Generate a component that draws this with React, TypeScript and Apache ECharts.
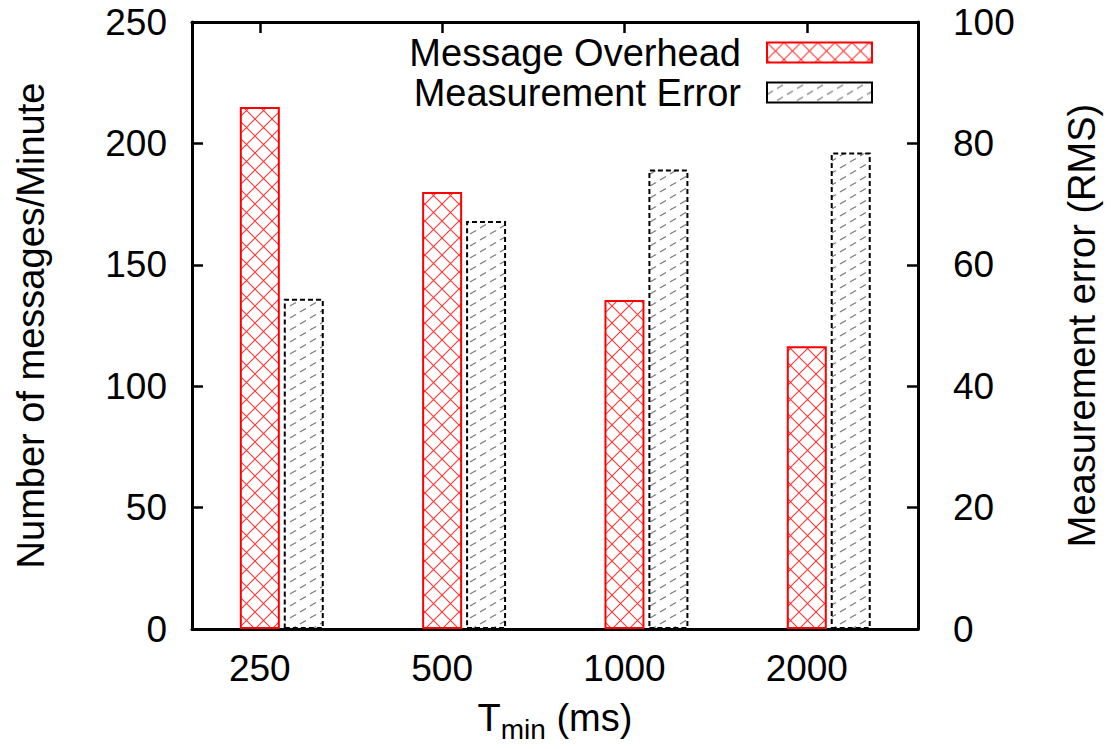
import React, { useEffect, useRef } from 'react';
import * as echarts from 'echarts';

// ---- data ----
const categories = ['250', '500', '1000', '2000'];
const messageOverhead = [215, 180, 135.5, 116.5];
const measurementError = [54.4, 67.2, 75.7, 78.5];
const seriesNames = ['Message Overhead', 'Measurement Error'];
const xTickPositions = [0, 1, 2, 3];
const errorOffset = 0.241;

const FONT = '"Liberation Sans", Arial, Helvetica, sans-serif';

function svgUrl(s: string) {
  return 'data:image/svg+xml;charset=utf-8,' + encodeURIComponent(s);
}

// red crosshatch tile
const C = 17;
const crossLines: string[] = [];
for (let k = -1; k <= 1; k++) {
  crossLines.push(`M${-C} ${-C + k * C}L${2 * C} ${2 * C + k * C}`);
}
for (let k = 0; k <= 2; k++) {
  crossLines.push(`M${-C} ${C + k * C}L${2 * C} ${-2 * C + k * C}`);
}
const crossSvg = `<svg xmlns="http://www.w3.org/2000/svg" width="${C}" height="${C}" viewBox="0 0 ${C} ${C}"><rect x="0" y="0" width="${C}" height="${C}" fill="#ffffff"/><path d="${crossLines.join('')}" stroke="#ff3535" stroke-width="1.1" fill="none"/></svg>`;

// gray dashed diagonal tile
const GW = 20;
const GH = 12;
const grayLines: string[] = [];
for (let m = -1; m <= 1; m++) {
  grayLines.push(`<path d="M-20 ${24 + m * 12}L40 ${-12 + m * 12}"/>`);
}
const graySvg = `<svg xmlns="http://www.w3.org/2000/svg" width="${GW}" height="${GH}" viewBox="0 0 ${GW} ${GH}"><rect x="0" y="0" width="${GW}" height="${GH}" fill="#ffffff"/><g stroke="#7a7a7a" stroke-width="1.2" fill="none" stroke-dasharray="7 4.662">${grayLines.join('')}</g></svg>`;

const crossPattern: any = { image: svgUrl(crossSvg), repeat: 'repeat', imageWidth: C, imageHeight: C };
const grayPattern: any = { image: svgUrl(graySvg), repeat: 'repeat', imageWidth: GW, imageHeight: GH };

const X_MIN = -0.372;
const X_MAX = 3.61;

export default function App() {
  const ref = useRef<HTMLDivElement>(null);

  useEffect(() => {
    if (!ref.current) return;
    const chart = echarts.init(ref.current, undefined, { renderer: 'svg' });

    const axisLine = { show: true, onZero: false, lineStyle: { color: '#000', width: 3 } };
    const tickBase = { show: true, inside: true, length: 11, lineStyle: { color: '#000', width: 2.5 } };
    const labelBase = { color: '#000', fontFamily: FONT, fontSize: 37 };
    const nameStyle = { color: '#000', fontFamily: FONT, fontSize: 38 };

    const option: any = {
      animation: false,
      backgroundColor: '#ffffff',
      textStyle: { fontFamily: FONT },
      grid: { left: 192, top: 22, width: 726, height: 607, containLabel: false, outerBoundsMode: 'none' },
      legend: {
        data: seriesNames,
        orient: 'vertical',
        right: 238,
        top: 33.5,
        align: 'right',
        icon: 'rect',
        itemWidth: 105,
        itemHeight: 20,
        itemGap: 2,
        padding: 0,
        selectedMode: false,
        textStyle: { color: '#000', fontFamily: FONT, fontSize: 38, lineHeight: 37, padding: [0, 21, 0, 0] },
      },
      xAxis: [
        {
          type: 'value',
          position: 'bottom',
          min: X_MIN,
          max: X_MAX,
          axisLine,
          axisTick: { ...tickBase, customValues: xTickPositions },
          axisLabel: {
            ...labelBase,
            margin: 21,
            customValues: xTickPositions,
            formatter: (v: number) => categories[Math.round(v)] ?? '',
          },
          splitLine: { show: false },
          name: '{a|T}{b|min}{a| (ms)}',
          nameLocation: 'middle',
          nameGap: 64,
          nameMoveOverlap: false,
          nameTextStyle: {
            ...nameStyle,
            rich: {
              a: { fontSize: 38, lineHeight: 50, fontFamily: FONT, color: '#000' },
              b: { fontSize: 28, lineHeight: 24, verticalAlign: 'bottom', fontFamily: FONT, color: '#000' },
            },
          },
        },
        {
          type: 'value',
          position: 'top',
          min: X_MIN,
          max: X_MAX,
          axisLine,
          axisTick: { ...tickBase, customValues: xTickPositions },
          axisLabel: { show: false },
          splitLine: { show: false },
        },
      ],
      yAxis: [
        {
          type: 'value',
          position: 'left',
          min: 0,
          max: 250,
          interval: 50,
          axisLine,
          axisTick: tickBase,
          axisLabel: { ...labelBase, margin: 25 },
          splitLine: { show: false },
          name: 'Number of messages/Minute',
          nameLocation: 'middle',
          nameRotate: 90,
          nameGap: 142,
          nameMoveOverlap: false,
          nameTextStyle: nameStyle,
        },
        {
          type: 'value',
          position: 'right',
          min: 0,
          max: 100,
          interval: 20,
          axisLine,
          axisTick: tickBase,
          axisLabel: { ...labelBase, margin: 35 },
          splitLine: { show: false },
          name: 'Measurement error (RMS)',
          nameLocation: 'middle',
          nameRotate: 90,
          nameGap: 145,
          nameMoveOverlap: false,
          nameTextStyle: nameStyle,
        },
      ],
      series: [
        {
          name: seriesNames[0],
          type: 'bar',
          xAxisIndex: 0,
          yAxisIndex: 0,
          barWidth: 40,
          data: messageOverhead.map((v, i) => [xTickPositions[i], v]),
          itemStyle: { color: crossPattern, borderColor: '#ff0000', borderWidth: 2 },
        },
        {
          name: seriesNames[1],
          type: 'bar',
          xAxisIndex: 1,
          yAxisIndex: 1,
          barWidth: 40,
          data: measurementError.map((v, i) => [xTickPositions[i] + errorOffset, v]),
          itemStyle: { color: grayPattern, borderColor: '#000', borderWidth: 2, borderType: [5, 3] },
        },
      ],
    };

    chart.setOption(option);
    return () => chart.dispose();
  }, []);

  return (
    <div
      ref={ref}
      style={{ position: 'fixed', left: 0, top: 0, width: 1111, height: 749, background: '#fff' }}
    />
  );
}
